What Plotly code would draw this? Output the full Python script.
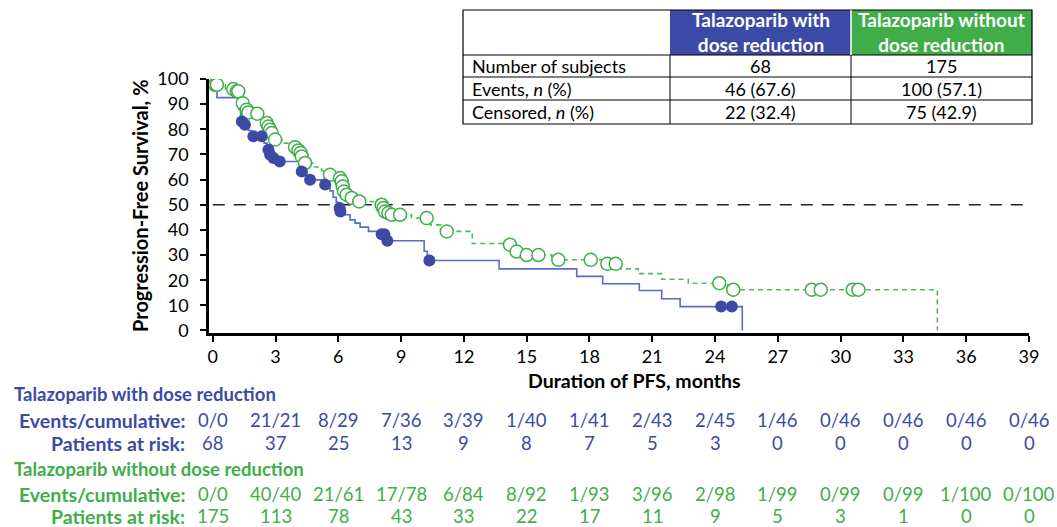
import plotly.graph_objects as go

# ---- Kaplan-Meier steps: time of each drop (months) and PFS (%) after it ----
with_dr_step_t = [0, 0.2, 1.25, 1.33, 1.48, 1.7, 1.85, 2.45, 2.6, 2.7, 2.85, 3.05,
                  4.15, 4.5, 5.2, 5.6, 5.75, 5.9, 6.0, 6.09, 6.24, 6.56, 6.8, 7.04,
                  7.44, 7.9, 8.28, 10.1, 10.25, 13.68, 17.39, 18.63, 20.38, 21.45,
                  22.33, 25.3]
with_dr_step_s = [100, 92.6, 88.0, 83.1, 81.8, 79.5, 77.2, 74.5, 71.9, 69.9, 68.6, 67.2,
                  63.2, 59.9, 58.0, 55.5, 53.0, 51.0, 48.7, 47.3, 46.0, 44.0, 42.7, 41.1,
                  39.4, 38.3, 35.7, 31.5, 27.8, 24.5, 21.5, 18.6, 15.9, 12.6,
                  9.5, 0]
with_dr_censor_t = [1.39, 1.54, 1.94, 2.34, 2.66, 2.74, 2.9, 3.2, 4.25, 4.65, 5.37,
                    6.06, 6.1, 8.07, 8.2, 8.34, 10.35, 24.29, 24.8]

without_dr_step_t = [0, 0.08, 0.6, 1.1, 1.35, 1.4, 1.55, 1.66, 1.95, 2.4, 2.5, 2.62,
                     2.7, 2.78, 2.9, 3.3, 3.7, 4.0, 4.15, 4.22, 4.35, 4.8, 5.2, 5.45,
                     5.9, 6.12, 6.18, 6.24, 6.35, 6.55, 6.9, 7.8, 8.1, 8.18, 8.3, 8.5,
                     9.5, 10.4, 10.9, 12.4, 14.0, 14.4, 14.8, 16.2, 18.6, 19.5, 20.33,
                     21.45, 22.72, 24.6, 34.62]
without_dr_step_s = [100, 97.7, 96.0, 95.1, 92.5, 90.4, 87.8, 86.7, 86.2, 84.0, 82.5, 81.1,
                     79.8, 78.5, 75.9, 74.5, 72.9, 71.6, 70.6, 69.2, 66.6, 65.0, 63.5, 61.9,
                     60.6, 59.3, 57.3, 55.3, 54.0, 52.7, 51.3, 50.0, 48.7, 47.3, 46.7, 46.0,
                     44.7, 42.0, 39.4, 34.6, 34.1, 31.4, 30.0, 28.1, 26.5, 24.5, 22.6,
                     20.4, 18.8, 16.2, 0]
without_dr_censor_t = [0.11, 0.2, 0.98, 1.15, 1.22, 1.43, 1.62, 1.7, 2.13, 2.58, 2.66,
                       2.74, 2.82, 2.98, 3.93, 4.09, 4.2, 4.25, 4.41, 5.6, 6.08, 6.16,
                       6.21, 6.27, 6.4, 6.64, 7.0, 8.07, 8.15, 8.23, 8.39, 8.55, 8.95,
                       10.22, 11.18, 14.2, 14.52, 15.0, 15.56, 16.51, 18.06, 18.85,
                       19.25, 24.2, 24.87, 28.62, 29.05, 30.58, 30.85]

# ---- Numbers at risk table ----
risk_times = [0, 3, 6, 9, 12, 15, 18, 21, 24, 27, 30, 33, 36, 39]
with_dr_events = ["0/0", "21/21", "8/29", "7/36", "3/39", "1/40", "1/41", "2/43",
                  "2/45", "1/46", "0/46", "0/46", "0/46", "0/46"]
with_dr_at_risk = [68, 37, 25, 13, 9, 8, 7, 5, 3, 0, 0, 0, 0, 0]
without_dr_events = ["0/0", "40/40", "21/61", "17/78", "6/84", "8/92", "1/93", "3/96",
                     "2/98", "1/99", "0/99", "0/99", "1/100", "0/100"]
without_dr_at_risk = [175, 113, 78, 43, 33, 22, 17, 11, 9, 5, 3, 1, 0, 0]

# ---- Summary table ----
summary_rows = ["Number of subjects", "Events, <i>n</i> (%)", "Censored, <i>n</i> (%)"]
summary_with_dr = ["68", "46 (67.6)", "22 (32.4)"]
summary_without_dr = ["175", "100 (57.1)", "75 (42.9)"]
group_with = "Talazoparib with<br>dose reduction"
group_without = "Talazoparib without<br>dose reduction"

W, H = 1057, 527
FONT = "Lato"
BLUE = "#3b4ba5"
BLUE_LINE = "#5b6cc4"
GREEN = "#3fae49"
GREEN_LINE = "#52b85a"


def px(x):
    return x / W


def py(y):
    return 1 - y / H


def km_at(times, surv, t):
    s = surv[0]
    for ti, si in zip(times, surv):
        if ti <= t:
            s = si
    return s


def label(x, y, text, size, color="black", xanchor="center", xref="paper", **kw):
    return dict(x=x, y=y, xref=xref, yref="paper", xanchor=xanchor, yanchor="middle",
                showarrow=False, text=text, font=dict(family=FONT, size=size, color=color), **kw)


fig = go.Figure()

fig.add_trace(go.Scatter(x=without_dr_step_t, y=without_dr_step_s, mode="lines",
                         line=dict(shape="hv", color=GREEN_LINE, width=1.6, dash="5px,4px"),
                         hoverinfo="skip"))
fig.add_trace(go.Scatter(x=with_dr_step_t, y=with_dr_step_s, mode="lines",
                         line=dict(shape="hv", color=BLUE_LINE, width=1.6),
                         hoverinfo="skip"))
fig.add_trace(go.Scatter(x=without_dr_censor_t,
                         y=[km_at(without_dr_step_t, without_dr_step_s, t) for t in without_dr_censor_t],
                         mode="markers",
                         marker=dict(symbol="circle", size=13, color="white",
                                     line=dict(color=GREEN, width=1.5))))
fig.add_trace(go.Scatter(x=with_dr_censor_t,
                         y=[km_at(with_dr_step_t, with_dr_step_s, t) for t in with_dr_censor_t],
                         mode="markers",
                         marker=dict(symbol="circle", size=12, color=BLUE,
                                     line=dict(color=BLUE, width=0))))

# median reference line
fig.add_shape(type="line", xref="x", yref="y", x0=0, x1=39, y0=50, y1=50,
              line=dict(color="#222222", width=1.5, dash="12px,9px"), layer="below")

ann = []
# axis titles
ann.append(label(px(634), py(381), "<b>Duration of PFS, months</b>", 19.5))
ann.append(label(px(140), py(206), "<b>Progression-Free Survival, %</b>", 20, textangle=-90))

# at-risk table
rows = [
    (394, 420, 443, BLUE, "Talazoparib with dose reduction", with_dr_events, with_dr_at_risk),
    (469, 494, 516, GREEN, "Talazoparib without dose reduction", without_dr_events, without_dr_at_risk),
]
for y_head, y_ev, y_risk, col, name, ev, risk in rows:
    ann.append(label(px(12), py(y_head), "<b>%s</b>" % name, 18.5, col, xanchor="left"))
    ann.append(label(px(187), py(y_ev), "<b>Events/cumulative:</b>", 19.5, col, xanchor="right"))
    ann.append(label(px(187), py(y_risk), "<b>Patients at risk:</b>", 19.5, col, xanchor="right"))
    for t, e, r in zip(risk_times, ev, risk):
        ann.append(label(t, py(y_ev), e, 18.5, col, xref="x"))
        ann.append(label(t, py(y_risk), str(r), 18.5, col, xref="x"))

# summary table
tx0, tc1, tc2, tx1 = 463, 670, 851, 1032
ty = [10, 55, 77, 100, 124]
shapes = []
shapes.append(dict(type="rect", xref="paper", yref="paper", x0=px(tc1), x1=px(tc2),
                   y0=py(ty[1]), y1=py(ty[0]), fillcolor=BLUE, line=dict(width=0)))
shapes.append(dict(type="rect", xref="paper", yref="paper", x0=px(tc2), x1=px(tx1),
                   y0=py(ty[1]), y1=py(ty[0]), fillcolor=GREEN, line=dict(width=0)))
shapes.append(dict(type="rect", xref="paper", yref="paper", x0=px(tx0), x1=px(tx1),
                   y0=py(ty[-1]), y1=py(ty[0]), line=dict(color="black", width=1.2)))
for yy in ty[1:-1]:
    shapes.append(dict(type="line", xref="paper", yref="paper", x0=px(tx0), x1=px(tx1),
                       y0=py(yy), y1=py(yy), line=dict(color="black", width=1)))
for xx in (tc1, tc2):
    shapes.append(dict(type="line", xref="paper", yref="paper", x0=px(xx), x1=px(xx),
                       y0=py(ty[-1]), y1=py(ty[1]), line=dict(color="black", width=1)))
shapes.append(dict(type="line", xref="paper", yref="paper", x0=px(tc2), x1=px(tc2),
                   y0=py(ty[1]), y1=py(ty[0]), line=dict(color="white", width=1.5)))
for s in shapes:
    fig.add_shape(**s)

ann.append(label(px((tc1 + tc2) / 2), py((ty[0] + ty[1]) / 2), "<b>%s</b>" % group_with,
                 19, "white"))
ann.append(label(px((tc2 + tx1) / 2), py((ty[0] + ty[1]) / 2), "<b>%s</b>" % group_without,
                 19, "white"))
for i, (lab, a, b) in enumerate(zip(summary_rows, summary_with_dr, summary_without_dr)):
    yc = py((ty[i + 1] + ty[i + 2]) / 2)
    ann.append(label(px(tx0 + 7), yc, lab, 18, xanchor="left"))
    ann.append(label(px((tc1 + tc2) / 2), yc, a, 18))
    ann.append(label(px((tc2 + tx1) / 2), yc, b, 18))

axis_common = dict(showline=True, linewidth=2.5, linecolor="black", ticks="outside",
                   ticklen=6, tickwidth=2, tickcolor="black", showgrid=False, zeroline=False,
                   automargin=False,
                   tickfont=dict(family=FONT, size=18, color="black"))

fig.update_layout(
    width=W, height=H,
    autosize=False,
    margin=dict(l=0, r=0, t=0, b=0, pad=0, autoexpand=False),
    paper_bgcolor="white", plot_bgcolor="white",
    showlegend=False,
    xaxis=dict(domain=[px(209), px(1029)], range=[-0.18, 39],
               tickvals=list(range(0, 40, 3)), **axis_common),
    yaxis=dict(domain=[py(333), py(79)], range=[-1, 100], ticklabelstandoff=8,
               tickvals=list(range(0, 101, 10)), **axis_common),
    annotations=ann,
)

fig.write_html("out.html")
